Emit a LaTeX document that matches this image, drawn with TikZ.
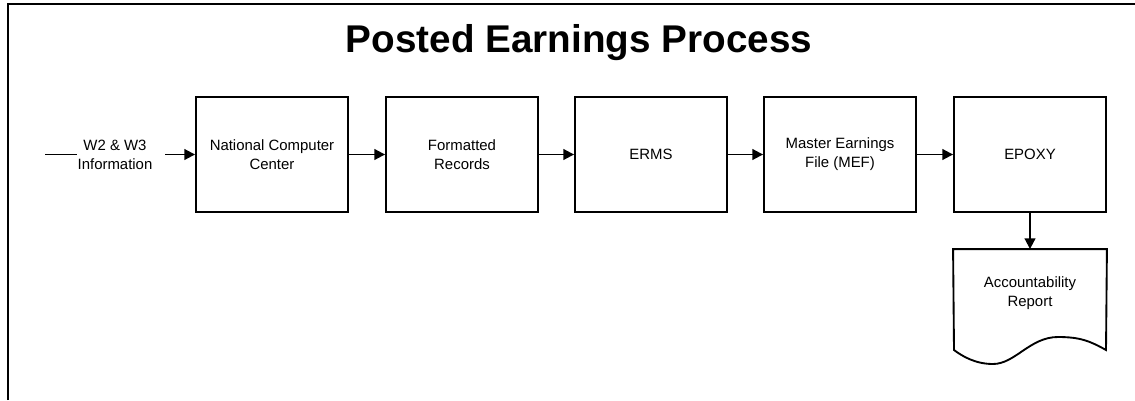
\documentclass[tikz,border=0pt]{standalone}
\usepackage{fontspec}
\setmainfont{Liberation Sans}
\usetikzlibrary{arrows.meta, positioning}

\begin{document}
\begin{tikzpicture}[x=0.75pt,y=-0.75pt,line width=1.4pt,
every node/.style={font=\fontsize{11.2}{14.3}\selectfont, align=center},
stage/.style={draw, rectangle, minimum width=114pt, minimum height=86.25pt, inner sep=2pt},
flow/.style={-{Triangle[length=8pt,width=8pt]}}]
\useasboundingbox (0,0) rectangle (1135,400);
% the frame runs off the page at right and bottom
\draw (8,400) -- (8,4) -- (1135,4);
\node[font=\fontsize{29}{33}\selectfont\bfseries, anchor=base] (title) at (579,52) {Posted Earnings Process};
% Let us place the stages:
\foreach \stage/\x/\txt in {ncc/272/{National Computer\\Center},
                            rec/462/{Formatted\\Records},
                            erms/651/ERMS,
                            mef/840/{Master Earnings\\File (MEF)},
                            epoxy/1030/EPOXY}
{
\node [stage] (\stage) at (\x,154.5) {\txt};
}
\foreach \from/\to in {ncc/rec,rec/erms,erms/mef,mef/epoxy}
{
\draw [flow] (\from) -- (\to);
}
% input
\coordinate (in) at (45,154.5);
\node [inner sep=0pt] (w2) at (115,154.5) {W2 \& W3\\Information};
\draw (in) -- (w2.west);
\draw [flow, shorten <=9pt] (w2.east) -- (ncc);
% output document
\node [minimum width=114pt, minimum height=64.5pt, inner sep=0pt] (report) at (1030,293) {Accountability\\Report};
\draw [flow] (epoxy) -- (report.north);
\draw (report.north west) -- (report.north east) -- (1106,350)
  .. controls (1090,341) and (1080,337) .. (1058,337)
  .. controls (1030,337) and (1015,364) .. (993,364)
  .. controls (975,364) and (962,356) .. (954,350) -- cycle;
\end{tikzpicture}
\end{document}
